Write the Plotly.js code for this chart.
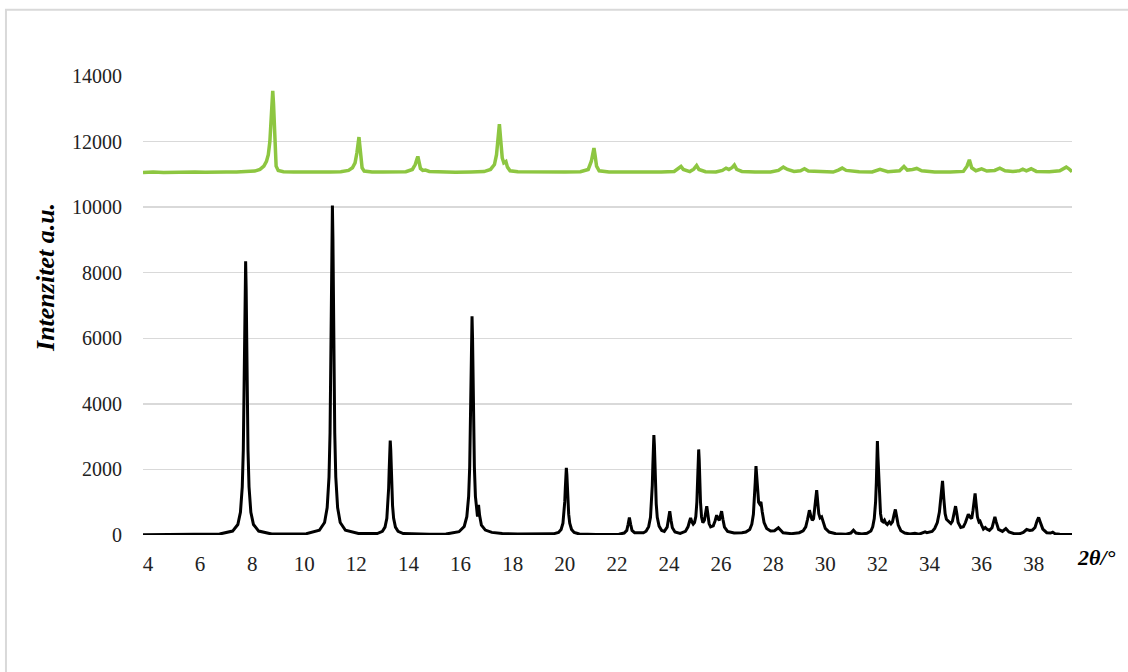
<!DOCTYPE html>
<html>
<head>
<meta charset="utf-8">
<script src="https://cdn.plot.ly/plotly-3.0.1.min.js"></script>
<style>html,body{margin:0;padding:0;background:#fff;}#chart{width:1128px;height:672px;}</style>
</head>
<body>
<div id="chart"></div>
<script>
// Black pattern (2θ, intensity)
var blackX = [3.81,5.0,6.0,6.75,7.25,7.45,7.55,7.62,7.66,7.69,7.71,7.73,7.75,7.77,7.79,7.81,7.84,7.88,7.95,8.05,8.25,8.75,9.5,
10.08,10.58,10.78,10.88,10.95,10.99,11.02,11.04,11.06,11.08,11.10,11.12,11.14,11.17,11.21,11.28,11.38,11.58,12.08,
12.8,13.0,13.1,13.17,13.21,13.24,13.26,13.28,13.3,13.32,13.34,13.36,13.39,13.43,13.5,13.6,13.8,14.8,
15.44,15.94,16.14,16.24,16.31,16.35,16.38,16.40,16.42,16.44,16.46,16.48,16.50,16.53,16.57,16.62,16.65,16.69,16.73,16.8,16.95,17.2,17.6,18.2,19.0,
19.56,19.76,19.86,19.93,19.97,20.0,20.02,20.04,20.06,20.08,20.1,20.12,20.15,20.19,20.26,20.36,20.56,21.2,22.0,
22.08,22.28,22.38,22.43,22.48,22.53,22.58,22.68,22.88,23.02,23.12,23.22,23.29,23.33,23.36,23.38,23.40,23.42,23.44,23.46,23.48,23.51,23.55,23.62,23.72,23.82,
23.93,23.98,24.03,24.08,24.13,24.23,24.43,24.63,24.73,24.79,24.83,24.88,24.93,24.98,25.03,25.07,25.10,25.12,25.14,25.16,25.18,25.21,25.25,25.30,25.36,25.41,25.45,25.49,25.54,25.6,25.7,25.77,25.83,25.88,25.93,25.98,26.02,26.07,26.13,26.25,26.5,26.8,
26.95,27.1,27.18,27.24,27.28,27.31,27.34,27.37,27.40,27.44,27.48,27.53,27.58,27.65,27.75,27.9,28.05,28.13,28.2,28.27,28.38,28.7,29.0,
29.15,29.25,29.32,29.39,29.45,29.5,29.55,29.6,29.64,29.67,29.71,29.75,29.8,29.86,29.92,30.0,30.15,30.4,30.8,30.98,31.08,31.18,31.4,31.6,31.75,
31.82,31.88,31.93,31.96,31.98,32.0,32.02,32.05,32.08,32.12,32.17,32.22,32.27,32.32,32.38,32.46,32.52,32.58,32.64,32.69,32.74,32.8,32.9,33.05,33.25,33.44,33.6,33.75,33.83,33.9,34.0,34.1,34.2,34.3,34.38,34.44,34.5,34.55,34.6,34.65,34.69,34.75,34.82,34.88,34.94,35.0,35.05,35.1,35.2,35.3,35.38,35.44,35.49,35.55,35.62,35.67,35.71,35.75,35.79,35.84,35.9,35.94,36.0,36.07,36.14,36.2,36.3,36.4,36.46,36.51,36.56,36.65,36.8,36.93,37.05,37.25,37.45,37.6,37.73,37.85,37.95,38.05,38.13,38.19,38.25,38.35,38.5,38.65,38.73,38.82,39.0,39.47];
var blackY = [5,8,12,30,120,320,690,1470,2590,4180,5760,7520,8350,7520,5760,4180,2590,1470,690,320,120,30,25,
40,145,380,835,1770,3115,5025,6935,9045,10050,9045,6935,5025,3115,1770,835,380,145,47,
45,110,240,510,890,1440,1990,2590,2880,2590,1990,1440,890,510,240,110,45,25,
30,100,260,560,1180,2070,3335,4600,6000,6670,6000,4600,3335,2070,1180,620,560,917,600,300,150,80,45,30,40,
35,80,170,360,635,1025,1415,1845,2050,1845,1415,1025,635,360,170,80,30,15,25,
25,60,140,320,534,320,140,70,60,70,115,255,540,950,1525,2100,2740,3047,2740,2100,1525,950,540,270,140,110,
240,470,727,440,220,90,50,110,250,420,523,400,330,380,560,1000,1600,2200,2610,2300,1700,1000,550,380,450,700,880,650,350,250,280,430,605,500,450,600,727,480,240,110,60,70,
90,170,330,630,1050,1600,2100,1700,1250,1000,950,1012,700,380,200,120,130,170,218,160,70,40,70,
130,250,480,757,560,450,500,800,1200,1368,1000,650,520,553,400,200,90,40,25,60,147,60,30,50,120,
250,500,1000,1600,2300,2864,2400,1700,1050,650,430,400,452,360,320,400,340,400,620,778,560,300,130,60,30,50,25,60,95,70,90,110,200,380,700,1200,1652,1100,650,480,452,420,350,420,650,880,650,380,230,250,380,550,635,550,500,750,1050,1267,950,550,400,420,300,180,229,180,140,220,400,553,400,170,110,198,90,40,35,80,168,140,150,230,430,534,400,180,70,60,85,40,20,15];

// Green pattern (2θ, intensity)
var greenX = [3.81,4.2,4.6,5.0,5.4,5.8,6.2,6.6,7.0,7.4,7.8,8.1,8.3,8.45,8.55,8.62,8.68,8.72,8.76,8.79,8.82,8.85,8.88,8.92,9.0,9.2,9.6,10.0,10.5,11.0,11.4,11.7,11.85,11.95,12.02,12.07,12.10,12.13,12.17,12.22,12.3,12.6,13.0,13.5,13.9,14.15,14.26,14.32,14.36,14.40,14.46,14.55,14.65,14.8,15.2,15.8,16.4,16.9,17.15,17.3,17.38,17.44,17.49,17.54,17.6,17.66,17.74,17.8,17.9,18.2,18.8,19.4,20.0,20.6,20.9,21.02,21.08,21.12,21.16,21.22,21.32,21.7,22.4,23.0,23.7,24.2,24.38,24.46,24.55,24.8,24.95,25.06,25.15,25.4,25.8,26.05,26.19,26.3,26.43,26.51,26.6,26.8,27.3,27.9,28.2,28.39,28.55,28.8,29.05,29.2,29.35,29.8,30.3,30.5,30.65,30.8,31.3,31.8,32.1,32.4,32.85,33.02,33.15,33.35,33.51,33.7,34.2,34.8,35.3,35.44,35.53,35.62,35.78,36.0,36.2,36.5,36.7,36.9,37.2,37.45,37.58,37.72,37.9,38.1,38.6,39.0,39.15,39.25,39.35,39.47];
var greenY = [11060,11075,11060,11070,11055,11075,11065,11080,11070,11075,11085,11100,11150,11250,11400,11600,12000,12600,13200,13550,13150,12300,11600,11250,11120,11080,11070,11065,11075,11070,11080,11120,11200,11350,11650,11950,12137,11900,11450,11200,11100,11075,11070,11065,11080,11150,11300,11450,11545,11400,11180,11120,11130,11090,11075,11065,11075,11085,11150,11300,11600,12100,12534,12050,11500,11350,11392,11220,11110,11080,11070,11060,11070,11080,11150,11400,11650,11801,11600,11250,11110,11075,11070,11065,11075,11090,11180,11240,11150,11085,11160,11270,11150,11080,11075,11120,11190,11150,11210,11282,11150,11090,11075,11070,11120,11221,11150,11090,11110,11170,11100,11075,11070,11130,11191,11120,11080,11075,11150,11080,11110,11240,11130,11150,11180,11110,11075,11070,11090,11250,11444,11200,11110,11170,11100,11120,11190,11110,11090,11110,11160,11110,11170,11090,11080,11110,11190,11220,11170,11080];

var xTicks = [4,6,8,10,12,14,16,18,20,22,24,26,28,30,32,34,36,38];
var yTicks = [0,2000,4000,6000,8000,10000,12000,14000];
var yTitle = 'Intenzitet a.u.';
var xTitle = '2θ/°';

var serif = 'Liberation Serif, Times New Roman, serif';

var traces = [
  {x: greenX, y: greenY, type: 'scatter', mode: 'lines', line: {color: '#8dc641', width: 3.5}, hoverinfo: 'skip'},
  {x: blackX, y: blackY, type: 'scatter', mode: 'lines', line: {color: '#000000', width: 3}, hoverinfo: 'skip'}
];

var layout = {
  width: 1128, height: 672,
  margin: {l: 143, r: 56, t: 76, b: 137},
  paper_bgcolor: '#ffffff', plot_bgcolor: '#ffffff',
  showlegend: false,
  xaxis: {
    range: [3.81, 39.47], tickmode: 'array', tickvals: xTicks, ticktext: xTicks.map(String),
    showgrid: false, zeroline: false, showline: false,
    ticks: 'outside', ticklen: 10, tickcolor: 'rgba(0,0,0,0)',
    tickfont: {family: serif, size: 21, color: '#222'}
  },
  yaxis: {
    range: [0, 14000], tickmode: 'array', tickvals: yTicks, ticktext: yTicks.map(String),
    showgrid: true, gridcolor: '#d9d9d9', gridwidth: 1.5, zeroline: false, showline: false,
    ticks: 'outside', ticklen: 16, tickcolor: 'rgba(0,0,0,0)',
    tickfont: {family: serif, size: 20, color: '#222'}
  },
  shapes: [
    {type: 'rect', xref: 'paper', yref: 'paper', x0: -0.1475, x1: 1.07, y0: -0.32, y1: 1.1446,
     line: {color: '#d9d9d9', width: 2}, fillcolor: 'rgba(0,0,0,0)', layer: 'below'}
  ],
  annotations: [
    {text: '<b><i>' + yTitle + '</i></b>', xref: 'paper', yref: 'paper', x: -0.1044, y: 0.56,
     textangle: -90, showarrow: false, xanchor: 'center', yanchor: 'middle',
     font: {family: serif, size: 26, color: '#000'}},
    {text: '<b><i>' + xTitle + '</i></b>', xref: 'paper', yref: 'paper', x: 1.0, y: -0.05,
     showarrow: false, xanchor: 'left', yanchor: 'middle', xshift: 3,
     font: {family: serif, size: 22, color: '#000'}}
  ]
};

Plotly.newPlot('chart', traces, layout, {displayModeBar: false, staticPlot: true});
</script>
</body>
</html>
